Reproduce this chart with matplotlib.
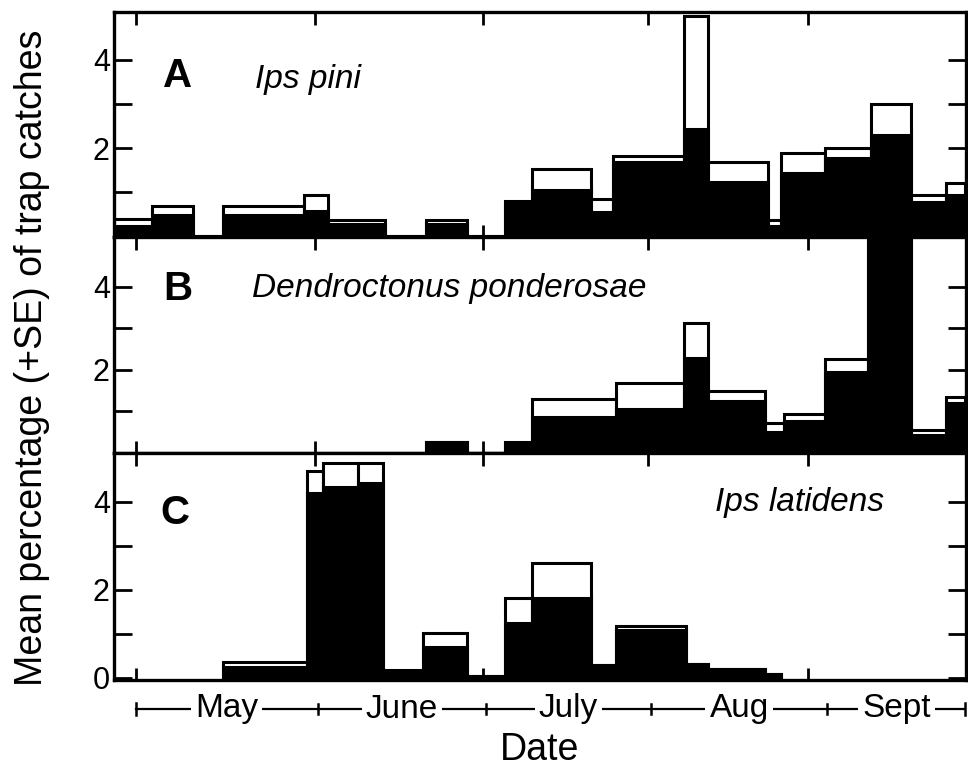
import matplotlib
matplotlib.use("Agg")
import matplotlib.pyplot as plt
import matplotlib.transforms as mtransforms
import numpy as np

plt.rcParams['font.family'] = ['Liberation Sans', 'DejaVu Sans']

# ---------------- data (x in days since 1 May) ----------------
edges_a = [-4, 3, 10.5, 16, 31, 35.5, 46, 53.5, 61, 68, 73, 84, 88, 101, 105.5,
           116.5, 119, 127, 135.5, 143, 149.5, 153]
mean_a = [0.23, 0.48, 0, 0.48, 0.57, 0.27, 0, 0.27, 0, 0.73, 1.05, 0.55, 1.68,
          2.43, 1.23, 0.23, 1.43, 1.77, 2.30, 0.77, 0.93]
total_a = [0.39, 0.68, 0, 0.68, 0.93, 0.36, 0, 0.36, 0, 0.80, 1.52, 0.84, 1.82,
           5.0, 1.68, 0.36, 1.89, 2.0, 3.0, 0.93, 1.2]

edges_b = [53.5, 61, 68, 73, 88.5, 101, 105.5, 116, 119.5, 127, 135, 143, 149.5, 153]
mean_b = [0.27, 0, 0.24, 0.87, 1.06, 2.28, 1.24, 0.51, 0.78, 1.96, 5.6, 0.43, 1.2]
total_b = [0.27, 0, 0.27, 1.30, 1.68, 3.13, 1.50, 0.72, 0.93, 2.26, 6.0, 0.55, 1.35]

edges_c = [16, 31.5, 34.5, 41, 45.5, 53, 61, 68, 73, 84, 88.5, 101.5, 105.5, 116, 119]
mean_c = [0.25, 4.2, 4.34, 4.43, 0.16, 0.70, 0.05, 1.25, 1.82, 0.30, 1.09, 0.32, 0.20, 0.09]
total_c = [0.36, 4.70, 4.89, 4.89, 0.18, 1.02, 0.05, 1.82, 2.61, 0.30, 1.18, 0.32, 0.20, 0.09]

panel_letters = ['A', 'B', 'C']
species = ['Ips pini', 'Dendroctonus ponderosae', 'Ips latidens']

month_names = ['May', 'June', 'July', 'Aug', 'Sept']
month_edges = [0, 33.5, 64.5, 95, 127.5, 153]
x_ticks = [0, 33, 64, 94.5, 124]
y_ticks = [1, 2, 3, 4]
y_ticklabels = ['', '2', '', '4']
y_ticks_c = [0, 1, 2, 3, 4]
y_ticklabels_c = ['0', '', '2', '', '4']

# ---------------- figure ----------------
W, H = 968, 773
fig = plt.figure(figsize=(W / 100, H / 100), dpi=100)

def fx(px):
    return px / W

def fy(py):
    return 1 - py / H

left, right = fx(114), fx(966)
ax_a = fig.add_axes([left, fy(237), right - left, fy(12) - fy(237)])
ax_b = fig.add_axes([left, fy(453), right - left, fy(237) - fy(453)])
ax_c = fig.add_axes([left, fy(680), right - left, fy(453) - fy(680)])
axes = [ax_a, ax_b, ax_c]

datasets = [(edges_a, mean_a, total_a), (edges_b, mean_b, total_b), (edges_c, mean_c, total_c)]
ylims = [(-0.02, 5.09), (0, 5.2), (-0.05, 5.11)]
letter_pos = [(0.058, 0.716), (0.058, 0.76), (0.055, 0.735)]
species_pos = [(0.165, 0.70), (0.162, 0.76), (0.705, 0.78)]

lw = 2.2
for i, ax in enumerate(axes):
    edges, mean, total = datasets[i]
    e = np.array(edges)
    widths = np.diff(e)
    ax.bar(e[:-1], total, width=widths, align='edge', color='white',
           edgecolor='black', linewidth=lw, zorder=2)
    ax.bar(e[:-1], mean, width=widths, align='edge', color='black',
           edgecolor='black', linewidth=lw, zorder=3)
    ax.set_xlim(-4.06, 153.1)
    ax.set_ylim(*ylims[i])
    for s in ax.spines.values():
        s.set_linewidth(2.4)
        s.set_zorder(5)
    ax.set_xticks(x_ticks)
    ax.set_xticklabels([])
    if i == 2:
        ax.set_yticks(y_ticks_c)
        ax.set_yticklabels(y_ticklabels_c)
    else:
        ax.set_yticks(y_ticks)
        ax.set_yticklabels(y_ticklabels)
    ax.tick_params(axis='x', direction='in', top=True, bottom=True,
                   length=9, width=2, labelbottom=False)
    ax.tick_params(axis='y', direction='in', left=True, right=True,
                   length=13, width=2, labelsize=22, pad=3)
    ax.text(letter_pos[i][0], letter_pos[i][1], panel_letters[i],
            transform=ax.transAxes, fontsize=29, fontweight='bold',
            ha='left', va='center')
    ax.text(species_pos[i][0], species_pos[i][1], species[i],
            transform=ax.transAxes, fontsize=24, style='italic',
            ha='left', va='center')

# ---------------- month bar beneath the plot ----------------
trans = mtransforms.blended_transform_factory(ax_c.transData, fig.transFigure)
yrow = fy(709)
ax_c.plot([month_edges[0], month_edges[-1]], [yrow, yrow], color='black',
          lw=1.6, transform=trans, clip_on=False)
for k, me in enumerate(month_edges):
    h = 0.008 if k in (0, len(month_edges) - 1) else 0.006
    ax_c.plot([me, me], [yrow - h, yrow + h], color='black', lw=1.8,
              transform=trans, clip_on=False)
for k, name in enumerate(month_names):
    xc = 0.5 * (month_edges[k] + month_edges[k + 1])
    ax_c.text(xc, yrow, name, transform=trans, ha='center', va='center',
              fontsize=24, bbox=dict(facecolor='white', edgecolor='none', pad=3))

fig.text(fx(540), fy(750), 'Date', ha='center', va='center', fontsize=27)
fig.text(fx(32), fy(358), 'Mean percentage (+SE) of trap catches', rotation=90,
         ha='center', va='center', fontsize=27)

fig.savefig('out.png', dpi=100)
